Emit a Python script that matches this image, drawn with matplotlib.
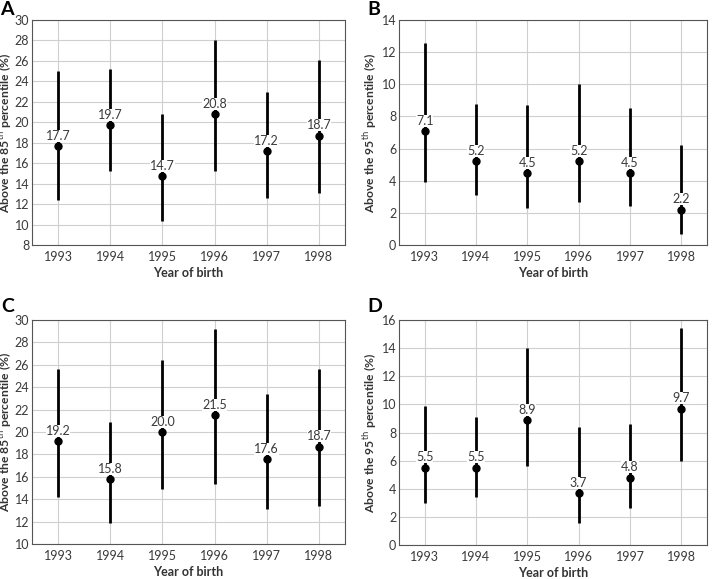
import matplotlib
matplotlib.use("Agg")
import matplotlib.pyplot as plt

plt.rcParams['font.family'] = ['Lato', 'DejaVu Sans']

years = [1993, 1994, 1995, 1996, 1997, 1998]

# panel A : above the 85th percentile
a_val = [17.7, 19.7, 14.7, 20.8, 17.2, 18.7]
a_low = [12.4, 15.2, 10.3, 15.2, 12.6, 13.1]
a_high = [25.0, 25.2, 20.8, 28.0, 23.0, 26.1]

# panel B : above the 95th percentile
b_val = [7.1, 5.2, 4.5, 5.2, 4.5, 2.2]
b_low = [3.9, 3.1, 2.3, 2.7, 2.4, 0.7]
b_high = [12.6, 8.8, 8.7, 10.0, 8.5, 6.2]

# panel C : above the 85th percentile
c_val = [19.2, 15.8, 20.0, 21.5, 17.6, 18.7]
c_low = [14.2, 11.9, 14.9, 15.4, 13.1, 13.4]
c_high = [25.6, 20.9, 26.4, 29.2, 23.4, 25.6]

# panel D : above the 95th percentile
d_val = [5.5, 5.5, 8.9, 3.7, 4.8, 9.7]
d_low = [3.0, 3.4, 5.6, 1.6, 2.6, 6.0]
d_high = [9.9, 9.1, 14.0, 8.4, 8.6, 15.4]

panels = [
    ("A", a_val, a_low, a_high, (8, 30), "85"),
    ("B", b_val, b_low, b_high, (0, 14), "95"),
    ("C", c_val, c_low, c_high, (10, 30), "85"),
    ("D", d_val, d_low, d_high, (0, 16), "95"),
]

# axes box in pixels (left, top, right, bottom), letter position, ylabel right edge
boxes = [
    (32, 20, 345, 245),
    (399, 20, 707, 245),
    (32, 320, 345, 544),
    (399, 320, 707, 545),
]
letters_xy = [(0, 1), (367, 1), (1, 298), (367, 298)]
ylab_x = [14, 379, 14, 379]

W, H = 713, 579
fig = plt.figure(figsize=(W / 100, H / 100), dpi=100)

for (letter, val, low, high, ylim, pct), (l, t, r, b), (lx, ly), yx in zip(panels, boxes, letters_xy, ylab_x):
    ax = fig.add_axes([l / W, 1 - b / H, (r - l) / W, (b - t) / H])
    ax.set_xlim(1992.5, 1998.5)
    ax.set_ylim(*ylim)
    ax.set_xticks(years)
    ax.set_yticks(range(ylim[0], ylim[1] + 1, 2))
    ax.grid(True, color='#cfcfcf', lw=0.8)
    ax.set_axisbelow(True)
    ax.vlines(years, low, high, color='black', lw=2, zorder=2)
    ax.plot(years, val, 'o', color='black', ms=5, zorder=4)
    for x, v in zip(years, val):
        ax.annotate(f"{v:.1f}", (x, v), xytext=(0, 3), textcoords='offset points',
                    ha='center', va='bottom', fontsize=9, color='#3a3a3a', zorder=3,
                    bbox=dict(boxstyle='square,pad=0.0', fc='white', ec='none'))
    for s in ax.spines.values():
        s.set_color('#555555')
    ax.tick_params(length=0, labelsize=9, colors='#3a3a3a')
    ax.tick_params(axis='y', pad=2)
    ax.tick_params(axis='x', pad=4)
    ax.set_xlabel("Year of birth", fontsize=9, fontweight='bold', color='#333333', labelpad=3)
    ax.set_ylabel(f"Above the {pct}$^{{\\mathrm{{th}}}}$ percentile (%)", fontsize=8.7,
                  fontweight='bold', color='#333333')
    ax.yaxis.set_label_coords((yx - l) / (r - l), 0.5)
    fig.text(lx / W, 1 - ly / H, letter, fontsize=14, fontweight='bold', ha='left', va='top')

fig.savefig("out.png", dpi=100)
